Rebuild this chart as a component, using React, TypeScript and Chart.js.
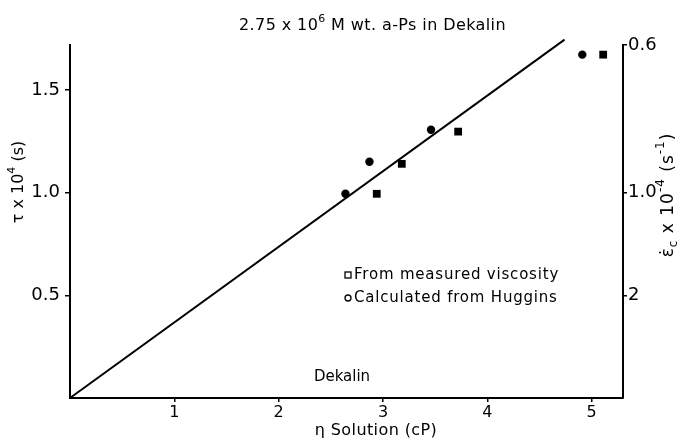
import React, { useEffect, useRef } from "react";
import { Chart, registerables } from "chart.js";

Chart.register(...registerables);

// ---- data ----
const xTicks = [1, 2, 3, 4, 5];
const yTicks = [0.5, 1.0, 1.5];
const yTickLabels = ["0.5", "1.0", "1.5"];
const rightTickValues = [0.5, 1.0, 1.72];
const rightTickLabels = ["2", "1.0", "0.6"];
const measuredEta = [2.94, 3.18, 3.72, 5.11];
const measuredTau = [0.995, 1.141, 1.298, 1.673];
const hugginsEta = [2.64, 2.87, 3.46, 4.91];
const hugginsTau = [0.995, 1.151, 1.307, 1.673];
const fitEta = [0, 4.74];
const fitTau = [0, 1.746];
const X_MAX = 5.3;
const Y_MAX = 1.72;

const FAMILY = "'DejaVu Sans', 'Liberation Sans', sans-serif";

type Seg = { t: string; m?: "sup" | "sub" };

function drawRich(
  ctx: CanvasRenderingContext2D,
  segs: Seg[],
  x: number,
  y: number,
  size: number,
  align: "left" | "center",
  rotate: boolean,
  spacing = 0
) {
  ctx.save();
  ctx.translate(x, y);
  if (rotate) ctx.rotate(-Math.PI / 2);
  ctx.fillStyle = "#000";
  ctx.textBaseline = "middle";
  ctx.textAlign = "left";
  (ctx as any).letterSpacing = `${spacing}px`;
  const fontFor = (s: Seg) =>
    `${s.m ? Math.round(size * 0.7) : size}px ${FAMILY}`;
  let total = 0;
  const widths = segs.map((s) => {
    ctx.font = fontFor(s);
    const w = ctx.measureText(s.t).width;
    total += w;
    return w;
  });
  let cx = align === "center" ? -total / 2 : 0;
  segs.forEach((s, i) => {
    ctx.font = fontFor(s);
    let dy = 0;
    if (s.m === "sup") dy = -size * 0.45;
    if (s.m === "sub") dy = size * 0.3;
    ctx.fillText(s.t, cx, dy);
    cx += widths[i];
  });
  ctx.restore();
}

const textPlugin = {
  id: "textPlugin",
  afterDraw(chart: any) {
    const ctx: CanvasRenderingContext2D = chart.ctx;
    // title
    drawRich(
      ctx,
      [{ t: "2.75 x 10" }, { t: "6", m: "sup" }, { t: " M wt. a-Ps in Dekalin" }],
      239,
      26,
      16,
      "left",
      false,
      0.4
    );
    // left axis title
    drawRich(
      ctx,
      [{ t: "\u03c4 x 10" }, { t: "4", m: "sup" }, { t: " (s)" }],
      19,
      182,
      16,
      "center",
      true
    );
    // right axis title
    drawRich(
      ctx,
      [
        { t: "\u03b5\u0307" },
        { t: "c", m: "sub" },
        { t: " x 10" },
        { t: "-4", m: "sup" },
        { t: " (s" },
        { t: "-1", m: "sup" },
        { t: ")" },
      ],
      669,
      195,
      17,
      "center",
      true,
      1
    );
    // x axis title
    drawRich(ctx, [{ t: "\u03b7 Solution (cP)" }], 376, 431, 16, "center", false, 0.4);
    // Dekalin label
    drawRich(ctx, [{ t: "Dekalin" }], 342, 377, 15, "center", false);
    // legend
    ctx.save();
    ctx.strokeStyle = "#000";
    ctx.lineWidth = 1.3;
    ctx.strokeRect(345, 272, 6, 6);
    ctx.beginPath();
    ctx.arc(348, 298, 3, 0, Math.PI * 2);
    ctx.stroke();
    ctx.restore();
    drawRich(ctx, [{ t: "From measured viscosity" }], 354, 275, 15, "left", false, 0.8);
    drawRich(ctx, [{ t: "Calculated from Huggins" }], 354, 298, 15, "left", false, 0.8);
  },
};

export default function App() {
  const ref = useRef<HTMLCanvasElement | null>(null);
  useEffect(() => {
    if (!ref.current) return;
    const axisCommon = {
      grid: {
        display: true,
        drawOnChartArea: false,
        drawTicks: true,
        color: "#000",
        lineWidth: 1.5,
      },
      border: { display: true, color: "#000", width: 2 },
    };
    const chart = new Chart(ref.current, {
      type: "scatter",
      data: {
        datasets: [
          {
            type: "line",
            data: fitEta.map((x, i) => ({ x, y: fitTau[i] })),
            borderColor: "#000",
            borderWidth: 2,
            pointRadius: 0,
            clip: false,
            fill: false,
          } as any,
          {
            data: measuredEta.map((x, i) => ({ x, y: measuredTau[i] })),
            pointStyle: "rect",
            pointRadius: 5.5,
            backgroundColor: "#000",
            borderColor: "#000",
            borderWidth: 0,
          },
          {
            data: hugginsEta.map((x, i) => ({ x, y: hugginsTau[i] })),
            pointStyle: "circle",
            pointRadius: 4.2,
            backgroundColor: "#000",
            borderColor: "#000",
            borderWidth: 0,
          },
        ],
      },
      options: {
        responsive: false,
        animation: false,
        layout: { padding: { top: 45, left: 0, right: 0, bottom: 0 } },
        plugins: {
          legend: { display: false },
          tooltip: { enabled: false },
          title: { display: false },
        },
        scales: {
          x: {
            type: "linear",
            min: 0,
            max: X_MAX,
            afterBuildTicks: (s: any) => {
              s.ticks = xTicks.map((v) => ({ value: v }));
            },
            afterFit: (s: any) => {
              s.height = 48;
            },
            ticks: {
              color: "#000",
              font: { family: FAMILY, size: 16 },
              padding: 1,
              callback: (v: any) => String(v),
            },
            ...axisCommon,
            grid: { ...axisCommon.grid, tickLength: 4 },
          },
          y: {
            type: "linear",
            position: "left",
            min: 0,
            max: Y_MAX,
            afterBuildTicks: (s: any) => {
              s.ticks = yTicks.map((v) => ({ value: v }));
            },
            afterFit: (s: any) => {
              s.width = 70;
            },
            ticks: {
              color: "#000",
              font: { family: FAMILY, size: 18 },
              padding: 5,
              callback: (v: any) => yTickLabels[yTicks.indexOf(v)] ?? "",
            },
            ...axisCommon,
            grid: { ...axisCommon.grid, tickLength: 5 },
          },
          y2: {
            type: "linear",
            position: "right",
            min: 0,
            max: Y_MAX,
            afterBuildTicks: (s: any) => {
              s.ticks = rightTickValues.map((v) => ({ value: v }));
            },
            afterFit: (s: any) => {
              s.width = 58;
            },
            ticks: {
              color: "#000",
              font: { family: FAMILY, size: 18 },
              padding: 1,
              callback: (v: any) =>
                rightTickLabels[rightTickValues.indexOf(v)] ?? "",
            },
            ...axisCommon,
            grid: { ...axisCommon.grid, tickLength: 4 },
          },
        },
      } as any,
      plugins: [textPlugin],
    });
    return () => chart.destroy();
  }, []);
  return (
    <div style={{ position: "absolute", left: 0, top: 0, width: 681, height: 446, background: "#fff" }}>
      <canvas ref={ref} width={681} height={446} />
    </div>
  );
}
